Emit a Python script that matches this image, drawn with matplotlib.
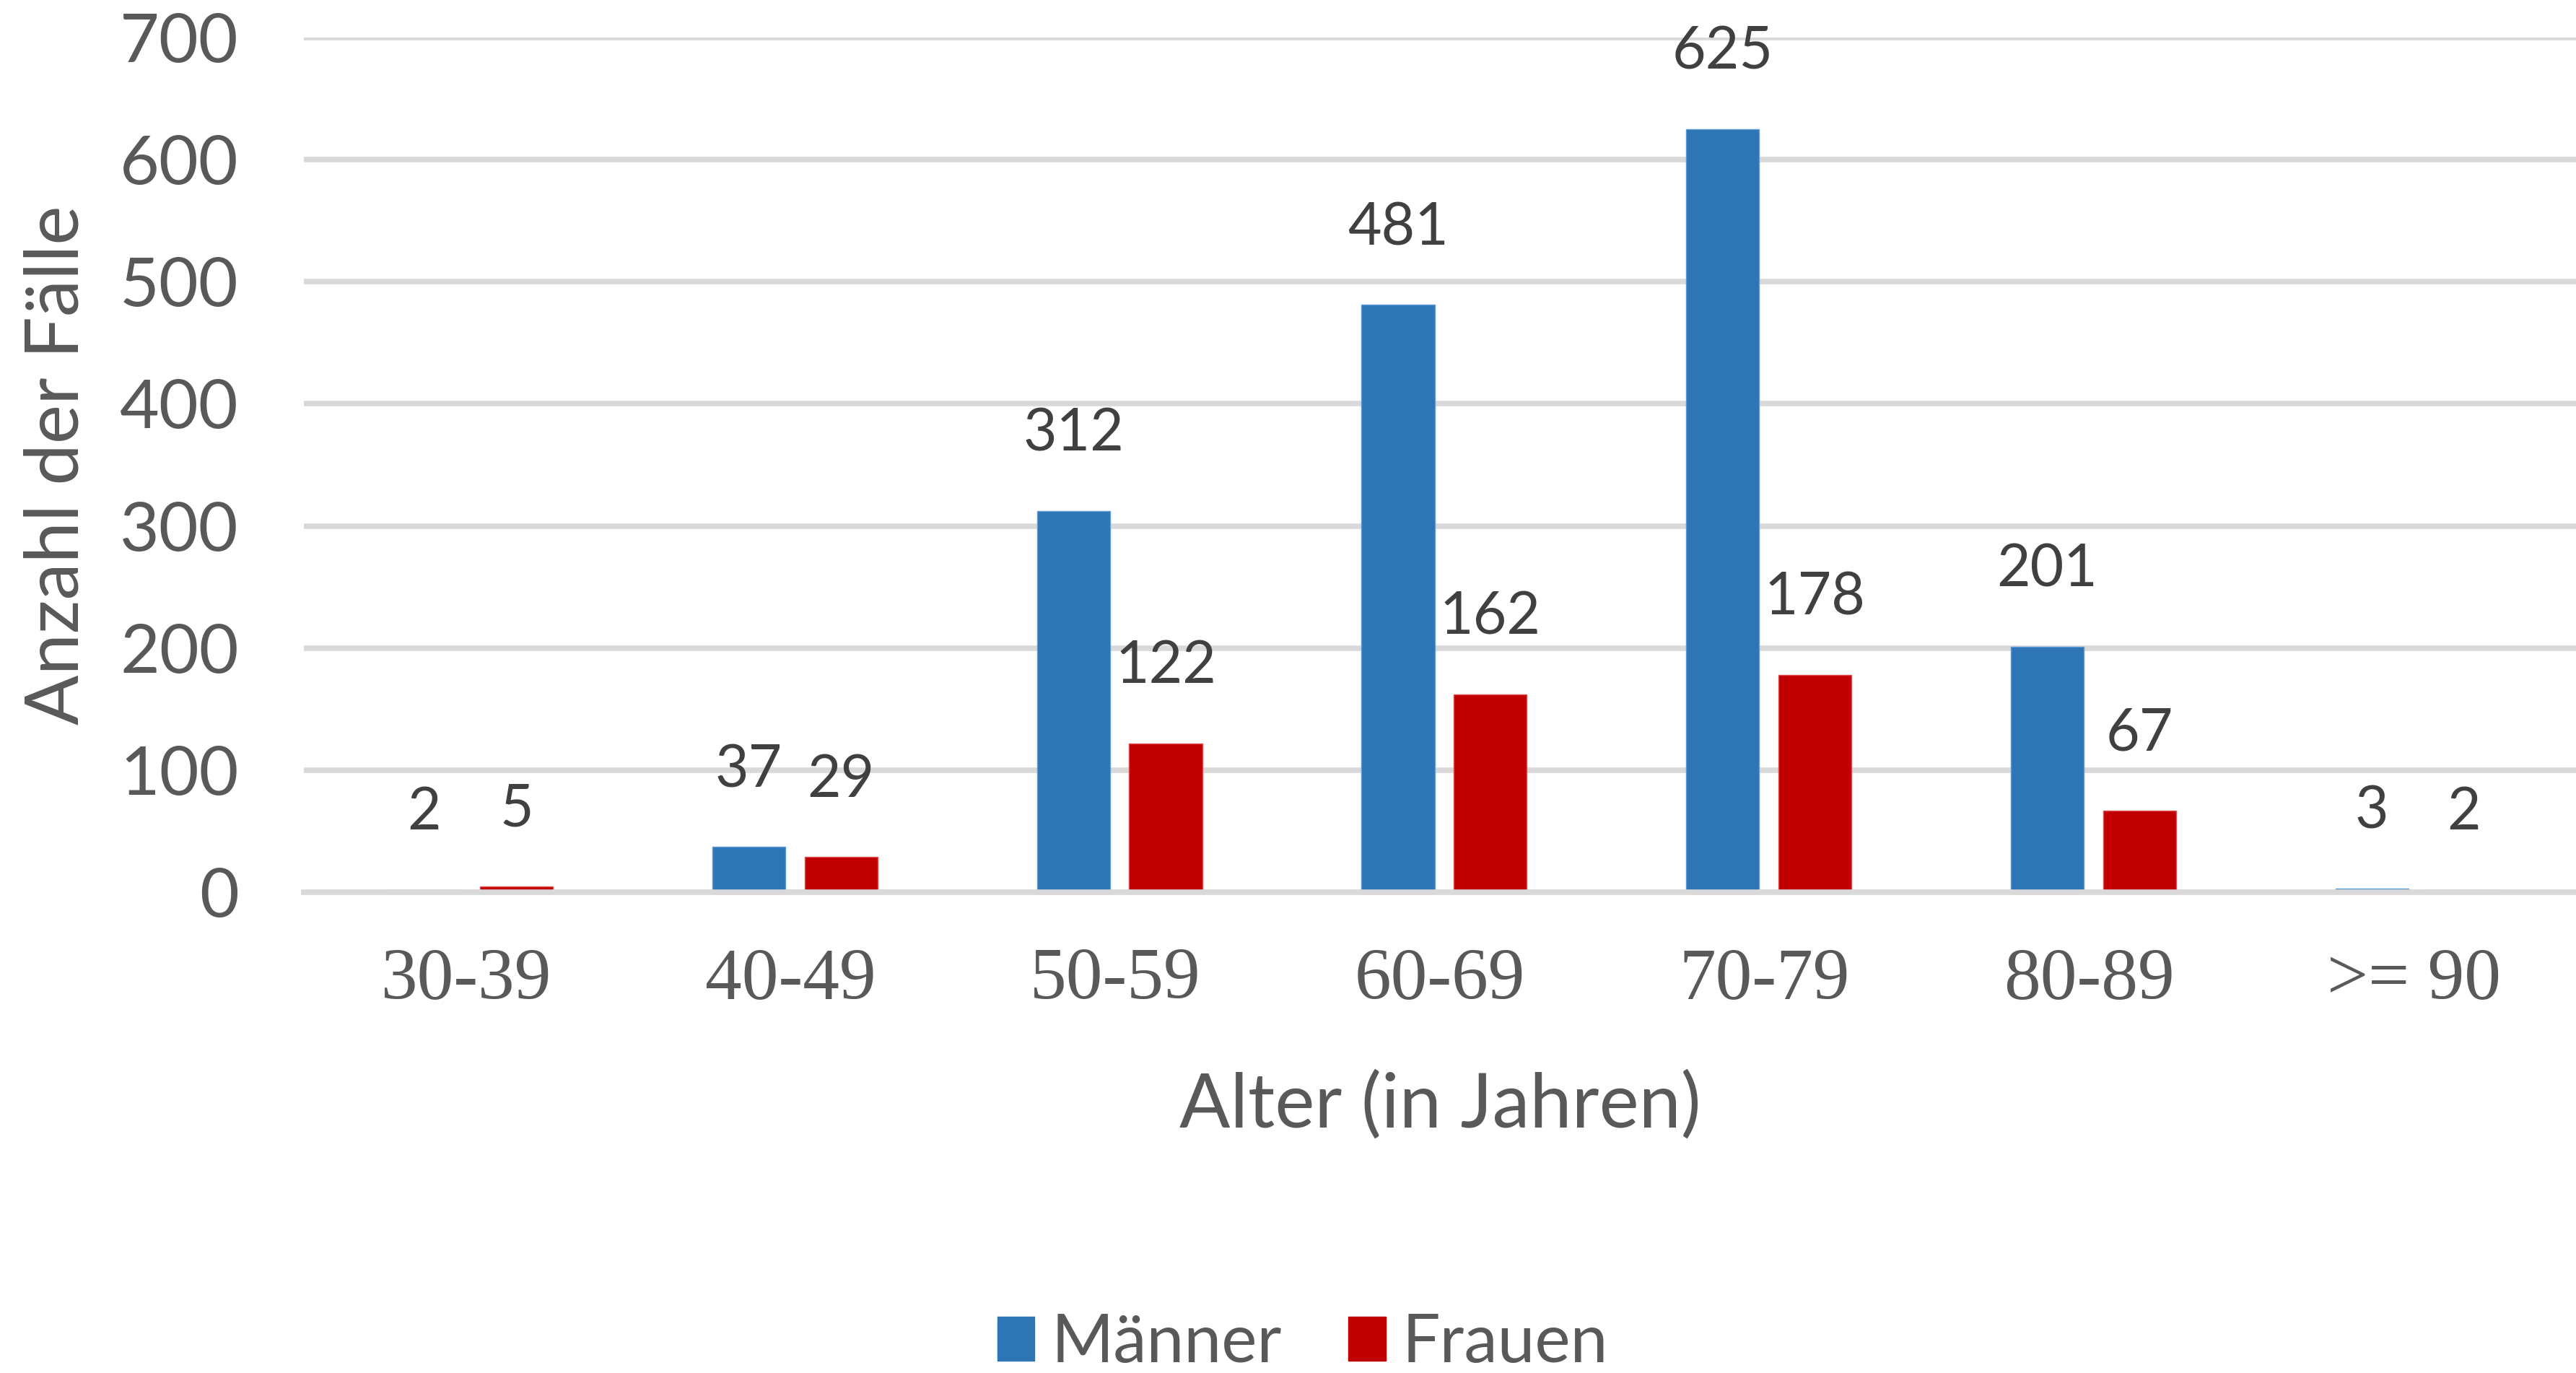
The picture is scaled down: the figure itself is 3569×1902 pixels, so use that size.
import matplotlib
matplotlib.use("Agg")
import matplotlib.pyplot as plt
import numpy as np
from matplotlib.patches import Patch

categories = ["30-39", "40-49", "50-59", "60-69", "70-79", "80-89", ">= 90"]
maenner = [2, 37, 312, 481, 625, 201, 3]
frauen = [5, 29, 122, 162, 178, 67, 2]
series_names = ["Männer", "Frauen"]
y_ticks = [0, 100, 200, 300, 400, 500, 600, 700]

BLUE = "#2E75B6"
RED = "#C00000"
GRID = "#D9D9D9"
TXT = "#595959"
LBL = "#404040"

W, H = 3569, 1902
DPI = 100
fig = plt.figure(figsize=(W / DPI, H / DPI), dpi=DPI)
ax = fig.add_axes([421 / W, 1 - 1236 / H, 1 - 421 / W, (1236 - 52) / H])

x = np.arange(len(categories))
bw = 0.225
b1 = ax.bar(x - 0.129, maenner, bw, color=BLUE, edgecolor="#5B9BD5", linewidth=1.0, zorder=3)
b2 = ax.bar(x + 0.155, frauen, bw, color=RED, edgecolor="#E05050", linewidth=1.0, zorder=3)

for bars, vals in ((b1, maenner), (b2, frauen)):
    for rect, v in zip(bars, vals):
        ax.annotate(str(v), (rect.get_x() + rect.get_width() / 2, v),
                    xytext=(0, 60), textcoords="offset points",
                    ha="center", va="baseline", fontsize=58,
                    family="Lato", color=LBL)

ax.set_xlim(-0.5, len(categories) - 0.5)
ax.set_ylim(0, 700)
ax.set_yticks(y_ticks)
ax.set_yticklabels([str(t) for t in y_ticks], family="Lato", fontsize=68, color=TXT)
ax.set_xticks(x)
ax.set_xticklabels(categories, family="Liberation Serif", fontsize=73, color=TXT)
ax.tick_params(axis="y", length=0, pad=65)
ax.tick_params(axis="x", length=0, pad=55)
for s in ax.spines.values():
    s.set_visible(False)
ax.grid(axis="y", color=GRID, linewidth=5.5, zorder=0)
ax.set_axisbelow(True)
ax.axhline(0, color=GRID, linewidth=5.5, zorder=4, clip_on=False)

ax.set_xlabel("Alter (in Jahren)", family="Lato", fontsize=75, color=TXT, labelpad=56)
fig.text(80 / W, 1 - 283 * 2.276 / H, "Anzahl der Fälle", rotation=90, family="Lato",
         fontsize=74, color=TXT, ha="center", va="center")

handles = [Patch(color=BLUE, label=series_names[0]), Patch(color=RED, label=series_names[1])]
fig.legend(handles=handles, loc="center", bbox_to_anchor=(793 / 1568, 1 - 818 / 836),
           ncol=2, frameon=False, prop={"family": "Lato", "size": 67},
           labelcolor=TXT, handlelength=0.55, handleheight=0.63,
           handletextpad=0.25, columnspacing=1.0)

fig.savefig("out.png", dpi=DPI)
